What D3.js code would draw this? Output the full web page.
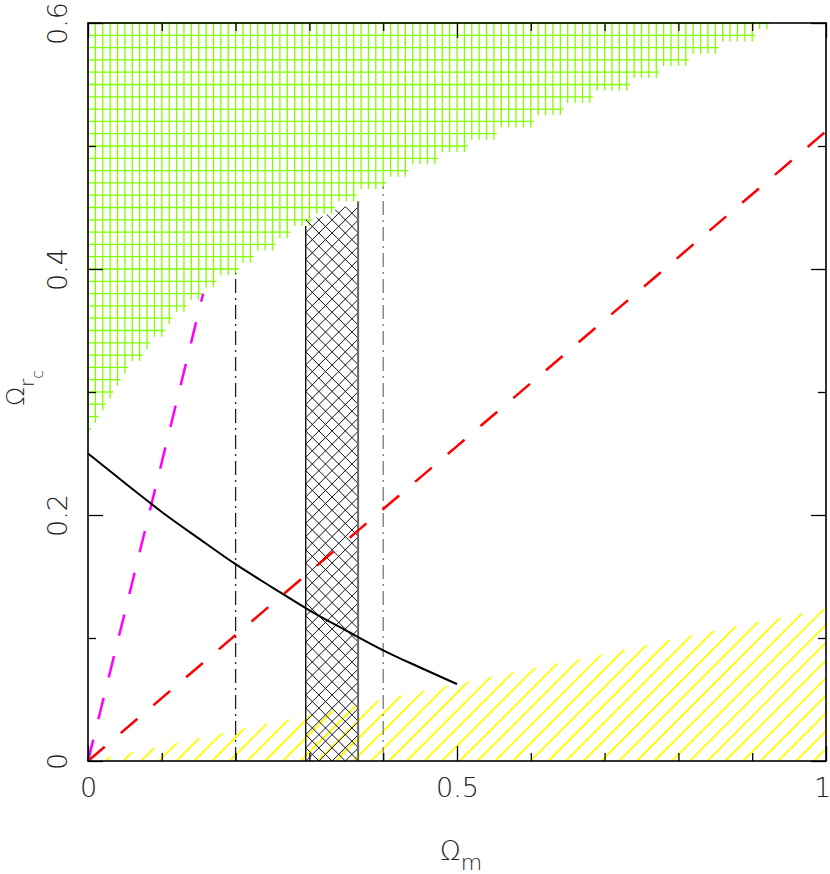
<!DOCTYPE html>
<html>
<head>
<meta charset="utf-8">
<script src="https://cdn.jsdelivr.net/npm/d3@7"></script>
<style>
  body { margin: 0; background: #fff; }
  text { font-family: "DejaVu Sans", sans-serif; font-weight: 200; fill: #222; }
</style>
</head>
<body>
<div id="graf"></div>
<script>
// Datos
const xTicksMajor = [0, 0.5, 1]
const xTicksMinor = [0.1, 0.2, 0.3, 0.4, 0.6, 0.7, 0.8, 0.9]
const yTicksMajor = [0, 0.2, 0.4, 0.6]
const yTicksMinor = [0.1, 0.3, 0.5]

// borde inferior de la región verde
const verdeBorde = [
  [0, 0.27], [0.05, 0.313], [0.1, 0.35], [0.15, 0.377], [0.2, 0.4],
  [0.25, 0.42], [0.3, 0.44], [0.35, 0.456], [0.4, 0.47], [0.45, 0.484],
  [0.5, 0.497], [0.6, 0.52], [0.7, 0.543], [0.8, 0.566], [0.9, 0.59], [0.925, 0.6],
]
// borde superior de la región amarilla
const amarilloBorde = [
  [0, 0], [0.1, 0.012], [0.2, 0.025], [0.3, 0.037], [0.4, 0.05], [0.5, 0.063],
  [0.6, 0.075], [0.7, 0.087], [0.8, 0.1], [0.9, 0.112], [1, 0.124],
]
// banda cuadriculada
const bandaX = [0.295, 0.366]
const bandaTecho = [[0.295, 0.44], [0.32, 0.443], [0.34, 0.45], [0.366, 0.452]]
const bandaLados = [[0.295, 0.435], [0.366, 0.455]]

// líneas verticales punto-raya [x, tope, color]
const verticales = [[0.2, 0.397, "#222"], [0.4, 0.467, "#777"]]

// curvas
const curvaNegra = [
  [0, 0.25], [0.05, 0.226], [0.1, 0.2025], [0.15, 0.181], [0.2, 0.16],
  [0.25, 0.141], [0.3, 0.1225], [0.35, 0.106], [0.4, 0.09], [0.45, 0.076], [0.5, 0.0625],
]
const curvaRoja = [[0, 0], [0.5, 0.256], [1, 0.512]]
const curvaMagenta = [[0, 0], [0.05, 0.121], [0.1, 0.243], [0.156, 0.38]]

// Dimensiones
const anchoTotal = 830
const altoTotal = 874
const margins = { top: 23, left: 88 }
const ancho = 738
const alto = 738

const svg = d3.select("#graf").append("svg")
  .attr("width", anchoTotal).attr("height", altoTotal)

const g = svg.append("g").attr("transform", `translate(${margins.left}, ${margins.top})`)

// Escaladores
const x = d3.scaleLinear().domain([0, 1]).range([0, ancho])
const y = d3.scaleLinear().domain([0, 0.6]).range([alto, 0])

const defs = svg.append("defs")
const clip = (id, pts) => {
  defs.append("clipPath").attr("id", id)
    .append("path").attr("d", d3.line().x((d) => x(d[0])).y((d) => y(d[1]))(pts) + "Z")
}
const interp = (pts, xv) => {
  const i = d3.bisector((d) => d[0]).left(pts, xv)
  if (i <= 0) return pts[0][1]
  if (i >= pts.length) return pts[pts.length - 1][1]
  const a = pts[i - 1], b = pts[i]
  return a[1] + ((xv - a[0]) / (b[0] - a[0])) * (b[1] - a[1])
}
const interpInv = (pts, yv) => {
  const i = d3.bisector((d) => d[1]).left(pts, yv)
  if (i <= 0) return pts[0][0]
  if (i >= pts.length) return pts[pts.length - 1][0]
  const a = pts[i - 1], b = pts[i]
  return a[0] + ((yv - a[1]) / (b[1] - a[1])) * (b[0] - a[0])
}

// Región verde (rejilla cada 0.01)
const verde = g.append("g").attr("stroke", "#80ff00").attr("stroke-width", 1.3)
const xsGrid = d3.range(0, 93).map((i) => i / 100).filter((v) => interp(verdeBorde, v) <= 0.6)
verde.selectAll("line.v").data(xsGrid).join("line")
  .attr("x1", (d) => x(d)).attr("x2", (d) => x(d))
  .attr("y1", y(0.6))
  .attr("y2", (d) => y(Math.ceil(interp(verdeBorde, d) * 100) / 100 - 0.005))
const ysGrid = d3.range(27, 61).map((i) => i / 100)
verde.selectAll("line.h").data(ysGrid).join("line")
  .attr("y1", (d) => y(d)).attr("y2", (d) => y(d))
  .attr("x1", 0)
  .attr("x2", (d) => x(Math.floor(interpInv(verdeBorde, d) * 100) / 100) + 3)

// Región amarilla (rayado diagonal)
clip("clipAmarillo", [[0, 0], ...amarilloBorde, [1, 0]])
const paso = 17.7
const amarillo = g.append("g").attr("clip-path", "url(#clipAmarillo)")
amarillo.selectAll("line").data(d3.range(0, Math.ceil(ancho / paso) + 1)).join("line")
  .attr("x1", (d) => d * paso).attr("y1", alto)
  .attr("x2", (d) => d * paso + 200).attr("y2", alto - 200)
  .attr("stroke", "#ffff00").attr("stroke-width", 1.8)

// Banda cuadriculada
clip("clipBanda", [[bandaX[0], 0], ...bandaTecho, [bandaX[1], 0]])
const banda = g.append("g").attr("clip-path", "url(#clipBanda)")
const paso2 = 13.2
const bx0 = x(bandaX[0])
banda.selectAll("line.a").data(d3.range(-60, 6)).join("line")
  .attr("x1", (d) => bx0 + d * paso2).attr("y1", alto)
  .attr("x2", (d) => bx0 + d * paso2 + 700).attr("y2", alto - 700)
  .attr("stroke", "#111").attr("stroke-width", 1)
banda.selectAll("line.b").data(d3.range(-6, 60)).join("line")
  .attr("x1", (d) => bx0 + d * paso2).attr("y1", alto)
  .attr("x2", (d) => bx0 + d * paso2 - 700).attr("y2", alto - 700)
  .attr("stroke", "#111").attr("stroke-width", 1)
g.selectAll("line.lado").data(bandaLados).join("line")
  .attr("x1", (d) => x(d[0])).attr("x2", (d) => x(d[0]))
  .attr("y1", y(0)).attr("y2", (d) => y(d[1]))
  .attr("stroke", (d, i) => (i === 0 ? "#111" : "#666"))
  .attr("stroke-width", (d, i) => (i === 0 ? 1.4 : 2))

// Verticales punto-raya
g.selectAll("line.vert").data(verticales).join("line")
  .attr("x1", (d) => x(d[0])).attr("x2", (d) => x(d[0]))
  .attr("y1", y(0)).attr("y2", (d) => y(d[1]))
  .attr("stroke", (d) => d[2]).attr("stroke-width", 1.3)
  .attr("stroke-dasharray", "14,5,2,5")

// Curvas
const linea = d3.line().x((d) => x(d[0])).y((d) => y(d[1]))
g.append("path").attr("d", linea(curvaRoja))
  .attr("fill", "none").attr("stroke", "#ff0000").attr("stroke-width", 2.5)
  .attr("stroke-dasharray", "22,21")
g.append("path").attr("d", linea(curvaMagenta))
  .attr("fill", "none").attr("stroke", "#ff00ff").attr("stroke-width", 2.5)
  .attr("stroke-dasharray", "22,21")
g.append("path").attr("d", d3.line().x((d) => x(d[0])).y((d) => y(d[1])).curve(d3.curveMonotoneX)(curvaNegra))
  .attr("fill", "none").attr("stroke", "#000").attr("stroke-width", 2)

// Marco
g.append("rect").attr("width", ancho).attr("height", alto)
  .attr("fill", "none").attr("stroke", "#000").attr("stroke-width", 1.6)

// Ejes (marcas hacia dentro)
const ejeX = [
  [d3.axisBottom(x), `translate(0, ${alto})`, true],
  [d3.axisTop(x), "translate(0, 0)", false],
]
ejeX.forEach(([ax, tr, conTexto]) => {
  g.append("g").attr("transform", tr)
    .call(ax.tickValues(xTicksMinor).tickSize(-8).tickFormat(""))
  const gm = g.append("g").attr("transform", tr)
    .call(ax.tickValues(xTicksMajor).tickSize(-15).tickPadding(17)
      .tickFormat(conTexto ? d3.format("") : ""))
  if (conTexto) gm.classed("ejex", true)
})
const ejeY = [
  [d3.axisLeft(y), "translate(0, 0)", true],
  [d3.axisRight(y), `translate(${ancho}, 0)`, false],
]
ejeY.forEach(([ax, tr, conTexto]) => {
  g.append("g").attr("transform", tr)
    .call(ax.tickValues(yTicksMinor).tickSize(-8).tickFormat(""))
  const gm = g.append("g").attr("transform", tr)
    .call(ax.tickValues(yTicksMajor).tickSize(-15).tickFormat(conTexto ? d3.format("") : ""))
  if (conTexto) gm.classed("ejey", true)
})
g.selectAll(".domain").remove()
g.selectAll(".tick line").attr("stroke", "#000").attr("stroke-width", 1.3)
g.selectAll(".tick text")
  .style("font-family", "'DejaVu Sans', sans-serif")
  .style("font-weight", 200)
  .style("font-size", "27px").attr("fill", "#222")
// el "1" pegado al borde
g.selectAll(".ejex .tick text").filter((d) => d === 1).attr("dx", -4)
// etiquetas del eje y giradas
g.selectAll(".ejey .tick text")
  .attr("x", null).attr("dy", null)
  .attr("text-anchor", "middle")
  .attr("transform", "translate(-21, 0) rotate(-90)")

// Títulos
svg.append("text").attr("x", 440).attr("y", 860)
  .style("font-size", "27px")
  .text("Ω")
  .append("tspan").attr("dy", 10).style("font-size", "22px").text("m")

const ty = svg.append("text")
  .attr("transform", "translate(24, 406) rotate(-90)")
  .style("font-size", "25px")
ty.append("tspan").text("Ω")
ty.append("tspan").attr("dy", 10).style("font-size", "20px").text("r")
ty.append("tspan").attr("dy", 9).style("font-size", "16px").text("c")
</script>
</body>
</html>
